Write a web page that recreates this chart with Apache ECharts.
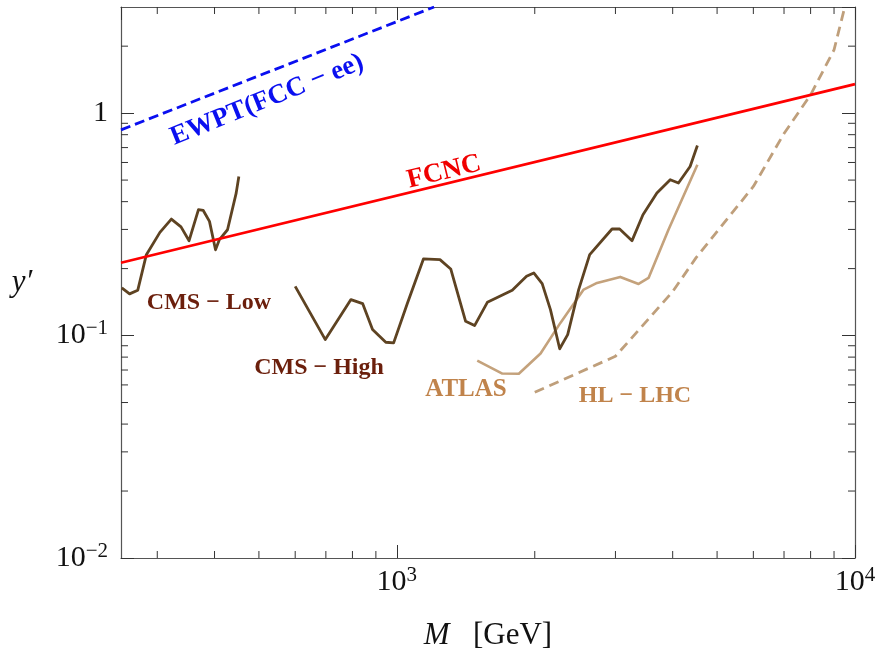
<!DOCTYPE html>
<html>
<head>
<meta charset="utf-8">
<script src="https://cdn.jsdelivr.net/npm/echarts@6/dist/echarts.min.js"></script>
<style>
html,body{margin:0;padding:0;background:#fff;}
#chart{width:880px;height:658px;}
</style>
</head>
<body>
<div id="chart"></div>
<script>
// ---- axis ranges ----
const xMin = 250, xMax = 10000;
const yMin = 0.01, yMax = 3;
// minor tick values
const xMinorTicks = [300, 400, 500, 600, 700, 800, 900, 2000, 3000, 4000, 5000, 6000, 7000, 8000, 9000];
const yMinorTicks = [0.02, 0.03, 0.04, 0.05, 0.06, 0.07, 0.08, 0.09, 0.2, 0.3, 0.4, 0.5, 0.6, 0.7, 0.8, 0.9, 2];

// ---- series data ----
const cmsLowM = [251, 261, 272, 284, 304, 322, 338, 352, 369, 378, 390, 402, 410, 427, 446, 452];
const cmsLowY = [0.164, 0.154, 0.160, 0.231, 0.291, 0.334, 0.308, 0.267, 0.368, 0.365, 0.326, 0.243, 0.270, 0.299, 0.437, 0.519];

const cmsHighM = [600, 698, 794, 842, 885, 946, 984, 1055, 1143, 1242, 1311, 1413, 1478, 1576, 1786, 1919, 1990, 2076, 2164, 2267, 2360, 2494, 2636, 2949, 3064, 3261, 3445, 3695, 3951, 4118, 4366, 4529];
const cmsHighY = [0.1665, 0.0959, 0.1451, 0.1392, 0.1064, 0.0933, 0.0927, 0.1402, 0.2211, 0.2195, 0.1993, 0.1159, 0.1109, 0.1411, 0.1598, 0.1846, 0.1912, 0.1713, 0.1308, 0.0872, 0.1010, 0.1609, 0.2311, 0.3014, 0.3014, 0.2671, 0.3494, 0.4372, 0.5018, 0.4851, 0.5757, 0.7155];

const atlasM = [1498, 1699, 1846, 2059, 2275, 2557, 2735, 3074, 3370, 3543, 3916, 4529];
const atlasY = [0.0772, 0.0675, 0.0673, 0.0830, 0.1140, 0.1609, 0.1724, 0.1835, 0.1706, 0.1816, 0.2992, 0.5858];

const hlM = [2000, 3000, 4000, 4500, 6000, 7000, 8000, 9000, 9500];
const hlY = [0.0556, 0.0807, 0.1576, 0.224, 0.468, 0.81, 1.208, 1.925, 3.0];

const fcncM = [250, 10000];
const fcncY = [0.2125, 1.35];

const ewptM = [250, 1206];
const ewptY = [0.841, 3.0];

const zip = (a, b) => a.map((v, i) => [v, b[i]]);

const FONT = 'Liberation Serif';
const axisColor = '#555';
const tickColor = '#333';

function supLabel(v) {
  const e = Math.round(Math.log10(v));
  if (Math.abs(Math.log10(v) - e) > 1e-6) return '';
  if (e === 0) return '{b|1}';
  const s = e < 0 ? '\u2212' + (-e) : '' + e;
  return '{b|10}{s|' + s + '}';
}

const richLab = {
  b: { fontFamily: FONT, fontSize: 30, color: '#111', lineHeight: 30 },
  s: { fontFamily: FONT, fontSize: 21, color: '#111', padding: [0, 0, 14, 0], lineHeight: 30 }
};

const chart = echarts.init(document.getElementById('chart'), null, { renderer: 'canvas' });

function minorX(params, api) {
  const cs = params.coordSys;
  const px = api.coord([api.value(0), yMin])[0];
  const b = cs.y + cs.height, t = cs.y;
  return {
    type: 'group',
    children: [
      { type: 'line', shape: { x1: px, y1: b, x2: px, y2: b - 7 }, style: { stroke: tickColor, lineWidth: 1 } },
      { type: 'line', shape: { x1: px, y1: t, x2: px, y2: t + 7 }, style: { stroke: tickColor, lineWidth: 1 } }
    ]
  };
}
function minorY(params, api) {
  const cs = params.coordSys;
  const py = api.coord([xMin, api.value(1)])[1];
  const l = cs.x, r = cs.x + cs.width;
  return {
    type: 'group',
    children: [
      { type: 'line', shape: { x1: l, y1: py, x2: l + 7, y2: py }, style: { stroke: tickColor, lineWidth: 1 } },
      { type: 'line', shape: { x1: r, y1: py, x2: r - 7, y2: py }, style: { stroke: tickColor, lineWidth: 1 } }
    ]
  };
}

const baseX = {
  type: 'log', logBase: 10, min: xMin, max: xMax,
  axisLine: { show: true, lineStyle: { color: axisColor, width: 1.2 } },
  axisTick: { show: true, inside: true, length: 13, lineStyle: { color: tickColor, width: 1 } },
  splitLine: { show: false }, minorTick: { show: false }, minorSplitLine: { show: false }
};
const baseY = {
  type: 'log', logBase: 10, min: yMin, max: yMax,
  axisLine: { show: true, lineStyle: { color: axisColor, width: 1.2 } },
  axisTick: { show: true, inside: true, length: 13, lineStyle: { color: tickColor, width: 1 } },
  splitLine: { show: false }, minorTick: { show: false }, minorSplitLine: { show: false }
};

const option = {
  animation: false,
  backgroundColor: '#fff',
  grid: { left: 121, right: 25, top: 7, bottom: 100, containLabel: false },
  xAxis: [
    Object.assign({}, baseX, {
      position: 'bottom',
      axisLabel: { show: true, margin: 9, formatter: supLabel, rich: richLab, showMinLabel: false, showMaxLabel: true },
      name: '{i|M}{r|   [GeV]}', nameLocation: 'middle', nameGap: 62,
      nameTextStyle: { rich: {
        i: { fontFamily: FONT, fontStyle: 'italic', fontSize: 31, color: '#111' },
        r: { fontFamily: FONT, fontSize: 31, color: '#111' }
      } }
    }),
    Object.assign({}, baseX, { position: 'top', axisLabel: { show: false } })
  ],
  yAxis: [
    Object.assign({}, baseY, {
      position: 'left',
      axisLabel: { show: true, margin: 13, formatter: supLabel, rich: richLab, showMinLabel: true, showMaxLabel: false }
    }),
    Object.assign({}, baseY, { position: 'right', axisLabel: { show: false } })
  ],
  series: [
    { type: 'line', name: 'FCNC', data: zip(fcncM, fcncY), showSymbol: false, symbol: 'none',
      lineStyle: { color: '#ff0000', width: 2.8 }, z: 3 },
    { type: 'line', name: 'EWPT', data: zip(ewptM, ewptY), showSymbol: false, symbol: 'none',
      lineStyle: { color: '#0a0ff0', width: 2.8, type: [10, 5] }, z: 3 },
    { type: 'line', name: 'CMS-Low', data: zip(cmsLowM, cmsLowY), showSymbol: false, symbol: 'none',
      lineStyle: { color: '#5e4322', width: 2.8, join: 'round' }, z: 2 },
    { type: 'line', name: 'CMS-High', data: zip(cmsHighM, cmsHighY), showSymbol: false, symbol: 'none',
      lineStyle: { color: '#5e4322', width: 2.8, join: 'round' }, z: 2 },
    { type: 'line', name: 'ATLAS', data: zip(atlasM, atlasY), showSymbol: false, symbol: 'none',
      lineStyle: { color: '#c4a27c', width: 2.6, join: 'round' }, z: 1 },
    { type: 'line', name: 'HL-LHC', data: zip(hlM, hlY), showSymbol: false, symbol: 'none',
      lineStyle: { color: '#bf9f7b', width: 2.8, type: [10, 6] }, z: 1 },
    { type: 'custom', name: 'xminor', data: xMinorTicks.map(v => [v, yMin]), renderItem: minorX,
      silent: true, clip: false, z: 5 },
    { type: 'custom', name: 'yminor', data: yMinorTicks.map(v => [xMin, v]), renderItem: minorY,
      silent: true, clip: false, z: 5 }
  ],
  graphic: [
    { type: 'text', x: 22, y: 283, style: { text: 'y\u2032', font: 'italic 31px "' + FONT + '"', fill: '#111', align: 'center', verticalAlign: 'middle' } },
    { type: 'text', x: 267, y: 100, rotation: 22 * Math.PI / 180,
      style: { text: 'EWPT(FCC \u2212 ee)', font: 'bold 27px "' + FONT + '"', fill: '#0a0ff0', align: 'center', verticalAlign: 'middle' } },
    { type: 'text', x: 444, y: 172, rotation: 13.7 * Math.PI / 180,
      style: { text: 'FCNC', font: 'bold 27px "' + FONT + '"', fill: '#f00000', align: 'center', verticalAlign: 'middle' } },
    { type: 'text', x: 209, y: 303, style: { text: 'CMS \u2212 Low', font: 'bold 24px "' + FONT + '"', fill: '#6b1f0c', align: 'center', verticalAlign: 'middle' } },
    { type: 'text', x: 319, y: 368, style: { text: 'CMS \u2212 High', font: 'bold 24px "' + FONT + '"', fill: '#6b1f0c', align: 'center', verticalAlign: 'middle' } },
    { type: 'text', x: 466, y: 390, style: { text: 'ATLAS', font: 'bold 25px "' + FONT + '"', fill: '#c0834b', align: 'center', verticalAlign: 'middle' } },
    { type: 'text', x: 635, y: 396, style: { text: 'HL \u2212 LHC', font: 'bold 24px "' + FONT + '"', fill: '#c0834b', align: 'center', verticalAlign: 'middle' } }
  ]
};
chart.setOption(option);
</script>
</body>
</html>
